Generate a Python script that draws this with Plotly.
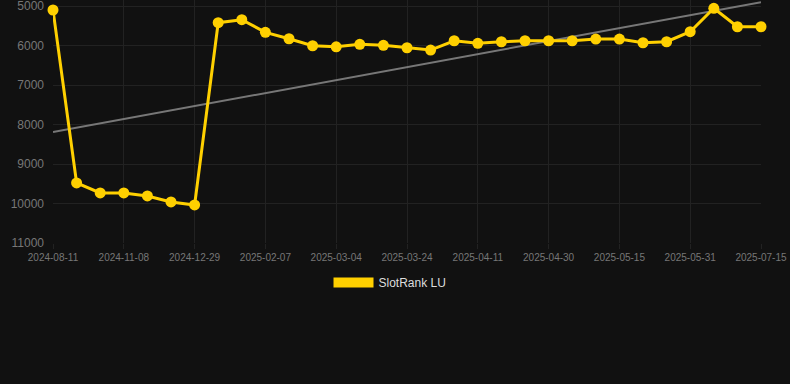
import numpy as np
import plotly.graph_objects as go

# ---- data ----
tick_labels = ["2024-08-11", "2024-11-08", "2024-12-29", "2025-02-07", "2025-03-04",
               "2025-03-24", "2025-04-11", "2025-04-30", "2025-05-15", "2025-05-31",
               "2025-07-15"]
rank_values = [5101, 9479, 9733, 9733, 9809, 9961, 10037,
               5423, 5347, 5667, 5829, 6006, 6032, 5971, 5996, 6057, 6115,
               5880, 5945, 5905, 5880, 5880, 5880, 5837, 5837, 5930, 5905,
               5651, 5058, 5525, 5525]
y_ticks = [5000, 6000, 7000, 8000, 9000, 10000, 11000]
y_tick_labels = ["5000", "6000", "7000", "8000", "9000", "10000", "11000"]
series_name = "SlotRank LU"

idx = np.arange(len(rank_values))
tick_positions = idx[::3]

# linear trend through the series
coef = np.polyfit(idx, rank_values, 1)
trend = np.polyval(coef, idx)

fig = go.Figure()
fig.add_trace(go.Scatter(
    x=idx, y=trend, mode="lines",
    line=dict(color="#777777", width=2),
    showlegend=False, hoverinfo="skip", cliponaxis=False))
fig.add_trace(go.Scatter(
    x=idx, y=rank_values, mode="lines+markers",
    line=dict(color="#FFD000", width=3),
    marker=dict(color="#FFD000", size=11),
    showlegend=False, cliponaxis=False))
# legend entry
fig.add_trace(go.Scatter(
    x=[None], y=[None], mode="lines", name=series_name,
    line=dict(color="#FFD000", width=10)))

fig.update_layout(
    width=790, height=384,
    paper_bgcolor="#111111", plot_bgcolor="#111111",
    margin=dict(l=53, r=29, t=0, b=141, autoexpand=False),
    font=dict(family="Liberation Sans, Arial, sans-serif", color="#777777"),
    showlegend=True,
    legend=dict(orientation="h", x=0.476, xanchor="center", y=-0.103, yanchor="top",
                font=dict(size=12, color="#dddddd"), itemwidth=40,
                bgcolor="rgba(0,0,0,0)"),
    xaxis=dict(range=[0, len(rank_values) - 1], tickmode="array",
               tickvals=tick_positions, ticktext=tick_labels,
               tickfont=dict(size=10, color="#777777"),
               showgrid=True, gridcolor="#222222", gridwidth=1,
               ticks="outside", ticklen=5, tickcolor="#222222",
               zeroline=False, showline=False, automargin=False,
               ticklabeloverflow="allow"),
    yaxis=dict(range=[11000, 4848], tickmode="array", tickvals=y_ticks,
               ticktext=y_tick_labels,
               tickfont=dict(size=12, color="#777777"),
               showgrid=True, gridcolor="#222222", gridwidth=1,
               zeroline=False, showline=False, ticklabelstandoff=8,
               automargin=False, ticklabeloverflow="allow"),
)

fig.write_html(
    "out.html",
    config={"displayModeBar": False},
    post_script="document.body.style.margin='0';document.body.style.background='#111111';",
)
